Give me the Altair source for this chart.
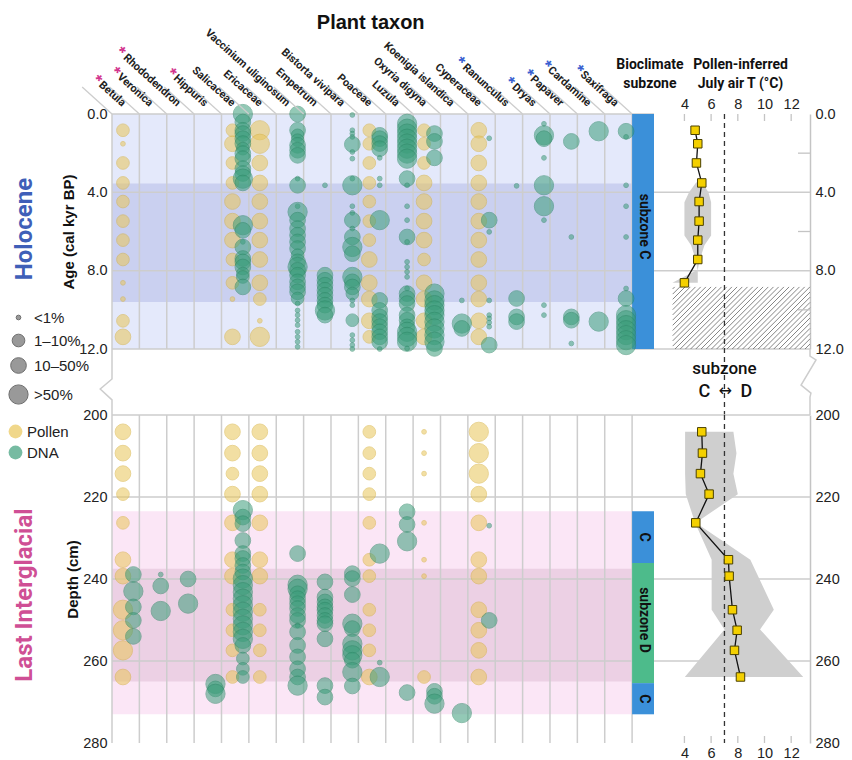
import altair as alt
import pandas as pd

# ------------------------------------------------------------------ data
TAXA = ["Betula", "Veronica", "Rhododendron", "Hippuris", "Salicaceae", "Ericaceae",
        "Vaccinium uliginosum", "Empetrum", "Bistorta vivipara", "Poaceae", "Luzula",
        "Oxyria digyna", "Koenigia islandica", "Cyperaceae", "Ranunculus", "Dryas",
        "Papaver", "Cardamine", "Saxifraga"]
PINK_STAR_TAXA = ["Betula", "Veronica", "Rhododendron", "Hippuris"]
BLUE_STAR_TAXA = ["Ranunculus", "Dryas", "Papaver", "Cardamine", "Saxifraga"]
SIZE_CLASSES = ["<1%", "1–10%", "10–50%", ">50%"]
PROXIES = ["Pollen", "DNA"]

# Holocene pollen samples (age, kyr BP) and abundance class per taxon (0 = absent)
HOLO_POLLEN_AGES = [0.83, 1.52, 2.5, 3.52, 4.47, 5.47, 6.44, 7.43, 8.62, 9.45, 10.56, 11.38]
HOLO_POLLEN_BETULA = [2, 1, 2, 2, 2, 2, 2, 2, 1, 1, 2, 3]
HOLO_POLLEN_SALICACEAE = [2, 3, 2, 2, 3, 3, 3, 2, 2, 1, 0, 3]
HOLO_POLLEN_ERICACEAE = [4, 4, 3, 3, 3, 3, 3, 3, 3, 2, 1, 4]
HOLO_POLLEN_POACEAE = [2, 2, 2, 2, 2, 2, 2, 3, 3, 3, 3, 2]
HOLO_POLLEN_OXYRIA = [2, 2, 2, 3, 3, 3, 3, 2, 3, 3, 3, 3]
HOLO_POLLEN_CYPERACEAE = [3, 3, 3, 3, 3, 3, 3, 3, 3, 3, 3, 3]

# Holocene sedaDNA (age, abundance class)
HOLO_DNA_SALICACEAE = [(0.0, 4), (0.41, 3), (0.83, 3), (1.0, 3), (1.26, 3), (1.51, 3), (1.77, 2),
                       (2.02, 3), (2.28, 3), (2.79, 3), (3.04, 3), (3.3, 4), (3.52, 3), (5.68, 4),
                       (5.94, 3), (6.53, 1), (6.79, 3), (7.38, 3), (7.55, 3), (7.81, 3), (8.15, 2),
                       (8.32, 2), (8.83, 3)]
HOLO_DNA_VACCINIUM = [(0.0, 3), (0.83, 3), (1.09, 2), (1.34, 2), (1.6, 3), (1.85, 3), (2.11, 3),
                      (3.3, 1), (3.64, 3), (4.71, 1), (5.0, 4), (5.42, 3), (5.85, 3), (6.19, 3),
                      (6.53, 3), (6.87, 3), (7.21, 2), (7.55, 3), (7.81, 4), (7.98, 3), (8.23, 3),
                      (8.57, 3), (8.83, 3), (9.08, 3), (9.42, 2), (9.68, 1), (10.03, 1), (10.27, 1),
                      (10.53, 1), (10.78, 1), (11.12, 1), (11.38, 1), (11.63, 1), (11.89, 1)]
HOLO_DNA_EMPETRUM = [(3.64, 1), (8.23, 3), (8.49, 3), (8.74, 3), (9.0, 3), (9.25, 3), (9.52, 3),
                     (9.76, 3), (10.03, 4), (10.27, 3)]
HOLO_DNA_BISTORTA = [(0.05, 1), (0.83, 1), (1.0, 1), (1.17, 1), (1.55, 3), (1.94, 1), (2.28, 1),
                     (3.3, 1), (3.64, 4), (4.71, 1), (5.05, 1), (5.42, 3), (5.85, 1), (6.28, 3),
                     (6.79, 4), (7.13, 3), (8.32, 4), (8.57, 3), (8.83, 3), (9.17, 2), (9.52, 1),
                     (9.76, 1), (10.53, 2), (11.29, 1), (11.55, 1), (11.8, 1), (12.0, 1)]
HOLO_DNA_POACEAE = [(1.09, 3), (1.26, 3), (1.51, 3), (1.77, 3), (2.24, 1), (3.3, 1), (3.64, 1),
                    (5.42, 4), (9.52, 3), (10.03, 3), (10.36, 3), (10.6, 3), (10.86, 3), (11.12, 3),
                    (11.38, 3), (11.63, 3), (12.0, 1)]
HOLO_DNA_LUZULA = [(0.5, 4), (0.75, 4), (1.0, 4), (1.26, 4), (1.51, 4), (1.77, 4), (2.02, 4),
                   (2.28, 4), (3.3, 3), (3.64, 1), (4.71, 1), (5.42, 1), (6.28, 3), (6.53, 1),
                   (7.55, 1), (7.81, 1), (8.06, 1), (8.32, 1), (8.91, 1), (9.17, 3), (9.42, 3),
                   (9.68, 3), (10.27, 3), (10.53, 3), (10.87, 3), (11.12, 4), (11.38, 4),
                   (11.63, 4), (11.97, 1)]
HOLO_DNA_OXYRIA = [(1.0, 3), (1.4, 3), (2.24, 3), (9.17, 4), (9.52, 4), (9.76, 4), (10.03, 4),
                   (10.27, 4), (10.61, 4), (10.95, 4), (11.29, 4), (11.63, 4), (11.97, 3)]
HOLO_DNA_KOENIGIA = [(9.52, 1), (10.7, 4), (10.95, 3)]
HOLO_DNA_CYPERACEAE = [(1.24, 1), (5.42, 3), (6.02, 1), (9.52, 1), (10.27, 1), (10.44, 1),
                       (10.65, 1), (10.86, 1), (11.8, 3)]
HOLO_DNA_RANUNCULUS = [(3.67, 1), (9.42, 3), (10.36, 3), (10.6, 3)]
HOLO_DNA_DRYAS = [(0.5, 1), (1.09, 4), (1.26, 3), (2.24, 1), (3.64, 4), (4.71, 4), (5.42, 1),
                  (9.76, 1), (10.27, 1)]
HOLO_DNA_PAPAVER = [(1.4, 3), (6.28, 1), (10.36, 3), (10.53, 3), (11.72, 1)]
HOLO_DNA_CARDAMINE = [(0.88, 4), (10.6, 4)]
HOLO_DNA_SAXIFRAGA = [(0.88, 3), (1.17, 1), (3.64, 1), (4.71, 1), (6.28, 1), (8.91, 1), (9.42, 3),
                      (10.27, 4), (10.53, 4), (10.78, 4), (11.04, 4), (11.29, 4), (11.55, 4),
                      (11.8, 4)]

# Last Interglacial pollen samples (depth, cm)
LIG_POLLEN_DEPTHS = [204.1, 209.3, 214.3, 219.3, 226.3, 235.3, 239.3, 247.5, 252.5, 257.4, 263.9]
LIG_POLLEN_BETULA = [3, 3, 3, 2, 2, 3, 3, 4, 4, 4, 3]
LIG_POLLEN_SALICACEAE = [3, 3, 2, 3, 3, 3, 3, 2, 2, 2, 2]
LIG_POLLEN_ERICACEAE = [3, 3, 3, 3, 3, 3, 3, 2, 2, 2, 2]
LIG_POLLEN_POACEAE = [2, 2, 2, 2, 2, 2, 2, 2, 2, 2, 3]
LIG_POLLEN_OXYRIA = [1, 1, 1, 0, 1, 1, 1, 0, 0, 0, 2]
LIG_POLLEN_CYPERACEAE = [4, 4, 4, 3, 3, 3, 3, 3, 3, 3, 3]

# Last Interglacial sedaDNA (depth, abundance class)
LIG_DNA_BETULA = [(238.9, 3), (243.0, 4), (246.8, 3), (250.1, 3), (254.0, 3)]
LIG_DNA_VERONICA = [(238.9, 1), (241.7, 3), (247.8, 4)]
LIG_DNA_RHODODENDRON = [(240.0, 3), (246.0, 4)]
LIG_DNA_HIPPURIS = [(265.6, 4), (266.8, 3), (268.0, 4)]
LIG_DNA_SALICACEAE = [(223.2, 4), (224.9, 3), (226.5, 3), (230.6, 3), (233.8, 3), (235.0, 3),
                      (236.7, 3), (238.3, 3), (239.9, 4), (241.5, 4), (243.2, 4), (244.8, 4),
                      (246.4, 4), (248.0, 4), (249.7, 4), (251.3, 4), (252.9, 4), (254.6, 4),
                      (256.2, 3), (259.4, 2), (261.9, 2), (263.9, 2)]
LIG_DNA_VACCINIUM = [(233.8, 3), (241.4, 4), (242.4, 4), (243.6, 3), (244.8, 3), (246.0, 3),
                     (247.2, 3), (248.9, 3), (250.1, 3), (251.3, 1), (252.9, 3), (256.2, 3),
                     (259.0, 3), (261.9, 3), (263.9, 3), (266.0, 4)]
LIG_DNA_EMPETRUM = [(240.7, 3), (244.4, 3), (245.6, 3), (246.8, 3), (247.6, 3), (248.9, 3),
                    (250.1, 3), (250.9, 3), (254.6, 3), (266.0, 3), (268.8, 3)]
LIG_DNA_BISTORTA = [(238.7, 3), (239.9, 3), (243.8, 3), (250.9, 4), (252.1, 3), (255.8, 4),
                    (257.4, 4), (258.6, 4), (259.8, 3), (262.7, 4), (266.1, 3)]
LIG_DNA_POACEAE = [(233.8, 4), (260.4, 1), (263.9, 4)]
LIG_DNA_LUZULA = [(223.6, 3), (226.7, 3), (230.8, 4), (267.7, 3)]
LIG_DNA_OXYRIA = [(267.4, 3), (268.6, 3), (270.4, 4)]
LIG_DNA_KOENIGIA = [(272.7, 4)]
LIG_DNA_CYPERACEAE = [(227.0, 1), (250.1, 3)]

# Bioclimate subzones and shaded intervals
HOLO_SUBZONES = [("C", 0.0, 12.0)]
LIG_SUBZONES = [("C", 223.5, 236.1), ("D", 236.1, 265.4), ("C", 265.4, 273.0)]
HOLO_SHADE = [(0.0, 12.0, "#e4e9fb"), (3.55, 9.6, "#cad0f0")]
LIG_SHADE = [(223.5, 273.0, "#fbe6f6"), (237.5, 265.0, "#ecd0e4")]

# Pollen-inferred July air temperature (°C)
HOLO_T_AGES = [0.83, 1.52, 2.5, 3.52, 4.47, 5.47, 6.44, 7.43, 8.62]
HOLO_T = [4.8, 5.0, 4.9, 5.3, 5.1, 5.1, 5.0, 5.0, 4.0]
HOLO_BAND_AGES = [3.3, 3.52, 4.0, 4.5, 6.2, 6.7, 7.45, 7.95, 8.62]
HOLO_BAND_LO = [5.25, 4.85, 4.35, 4.0, 4.0, 4.5, 4.85, 4.98, 3.1]
HOLO_BAND_HI = [5.3, 5.35, 5.8, 6.0, 6.0, 5.5, 5.15, 5.0, 5.0]
HOLO_NO_ANALOGUE = (3.12, 8.83, 12.0)   # hatched: T from 3.12 to axis end, age 8.83-12

LIG_T_DEPTHS = [204.1, 209.3, 214.3, 219.3, 226.3, 235.3, 239.3, 247.5, 252.5, 257.4, 263.9]
LIG_T = [5.3, 5.35, 5.2, 5.85, 4.85, 7.3, 7.35, 7.6, 7.95, 7.75, 8.2]
LIG_BAND_DEPTHS = [204.1, 209.3, 214.3, 219.3, 226.3, 235.3, 247.5, 252.3, 263.9]
LIG_BAND_LO = [4.05, 4.05, 4.05, 4.1, 4.8, 6.04, 6.04, 7.0, 4.03]
LIG_BAND_HI = [7.67, 7.9, 7.67, 8.0, 4.85, 8.94, 10.7, 9.67, 12.9]
SUBZONE_BOUNDARY_T = 7.0

T_TICKS = [4, 6, 8, 10, 12]
AGE_TICKS = [0, 4, 8, 12]
DEPTH_TICKS = [200, 220, 240, 260, 280]

# axis-break markers between the two records (slot / temperature offsets, age units)
LEFT_BREAK_X = [0, 0, -0.43, 0, 0]
LEFT_BREAK_AGE = [12.0, 13.53, 14.04, 14.6, 15.37]
RIGHT_BREAK_DT = [0, 0, 0.45, -0.67, 0.07, 0, 0]
RIGHT_BREAK_AGE = [12.0, 12.36, 12.56, 13.84, 14.25, 14.45, 15.37]

# ------------------------------------------------------------------ styling / layout
FONT = "Liberation Sans"
FONT_C = "Roboto"
W_MAIN, W_T = 542, 156
H_TOP, H_BOT, GAP = 235, 328, 66
X_DOM = [0, 19.8]
T_DOM = [1.72, 13.41]
GRID = "#cdcdcd"
POLLEN_SHIFT, DNA_SHIFT = 0.40, 0.78
BLUE_BAR, GREEN_BAR = "#3b90d9", "#4dbb8b"
LABEL_SIZE = 11

AB = {"a": 556, "b": 611, "c": 556, "d": 611, "e": 556, "f": 333, "g": 611, "h": 611, "i": 278,
      "k": 556, "l": 278, "m": 889, "n": 611, "o": 611, "p": 611, "r": 389, "s": 556, "t": 333,
      "u": 611, "v": 556, "y": 556, "x": 556, "z": 500, " ": 278, "B": 722, "C": 722, "D": 722,
      "E": 667, "H": 722, "K": 722, "L": 611, "O": 778, "P": 667, "R": 722, "S": 667, "V": 667}


def text_w(s, size):
    return sum(AB.get(ch, 600) for ch in s) * 0.93 * size / 1000.0


def bubble_frame(positions, pollen_map, dna_map):
    rows = []
    for taxon, classes in pollen_map.items():
        i = TAXA.index(taxon)
        for p, c in zip(positions, classes):
            if c:
                rows.append({"x": i + POLLEN_SHIFT, "y": p, "proxy": "Pollen", "cls": c})
    for taxon, pts in dna_map.items():
        i = TAXA.index(taxon)
        for p, c in pts:
            rows.append({"x": i + DNA_SHIFT, "y": p, "proxy": "DNA", "cls": c})
    return pd.DataFrame(rows)


holo_bub = bubble_frame(
    HOLO_POLLEN_AGES,
    {"Betula": HOLO_POLLEN_BETULA, "Salicaceae": HOLO_POLLEN_SALICACEAE,
     "Ericaceae": HOLO_POLLEN_ERICACEAE, "Poaceae": HOLO_POLLEN_POACEAE,
     "Oxyria digyna": HOLO_POLLEN_OXYRIA, "Cyperaceae": HOLO_POLLEN_CYPERACEAE},
    {"Salicaceae": HOLO_DNA_SALICACEAE, "Vaccinium uliginosum": HOLO_DNA_VACCINIUM,
     "Empetrum": HOLO_DNA_EMPETRUM, "Bistorta vivipara": HOLO_DNA_BISTORTA,
     "Poaceae": HOLO_DNA_POACEAE, "Luzula": HOLO_DNA_LUZULA, "Oxyria digyna": HOLO_DNA_OXYRIA,
     "Koenigia islandica": HOLO_DNA_KOENIGIA, "Cyperaceae": HOLO_DNA_CYPERACEAE,
     "Ranunculus": HOLO_DNA_RANUNCULUS, "Dryas": HOLO_DNA_DRYAS, "Papaver": HOLO_DNA_PAPAVER,
     "Cardamine": HOLO_DNA_CARDAMINE, "Saxifraga": HOLO_DNA_SAXIFRAGA})

lig_bub = bubble_frame(
    LIG_POLLEN_DEPTHS,
    {"Betula": LIG_POLLEN_BETULA, "Salicaceae": LIG_POLLEN_SALICACEAE,
     "Ericaceae": LIG_POLLEN_ERICACEAE, "Poaceae": LIG_POLLEN_POACEAE,
     "Oxyria digyna": LIG_POLLEN_OXYRIA, "Cyperaceae": LIG_POLLEN_CYPERACEAE},
    {"Betula": LIG_DNA_BETULA, "Veronica": LIG_DNA_VERONICA, "Rhododendron": LIG_DNA_RHODODENDRON,
     "Hippuris": LIG_DNA_HIPPURIS, "Salicaceae": LIG_DNA_SALICACEAE,
     "Vaccinium uliginosum": LIG_DNA_VACCINIUM, "Empetrum": LIG_DNA_EMPETRUM,
     "Bistorta vivipara": LIG_DNA_BISTORTA, "Poaceae": LIG_DNA_POACEAE, "Luzula": LIG_DNA_LUZULA,
     "Oxyria digyna": LIG_DNA_OXYRIA, "Koenigia islandica": LIG_DNA_KOENIGIA,
     "Cyperaceae": LIG_DNA_CYPERACEAE})

xs = alt.Scale(domain=X_DOM, nice=False, zero=False)
ts = alt.Scale(domain=T_DOM, nice=False, zero=False)
color_scale = alt.Scale(domain=PROXIES, range=["#e9c659", "#3c9e7b"])
stroke_scale = alt.Scale(domain=PROXIES, range=["#d8b23c", "#2c8866"])
size_scale = alt.Scale(type="linear", domain=[1, 2, 3, 4], range=[22, 160, 245, 370])
size_label_expr = " : ".join(
    f"datum.value == {k + 1} ? '{lab}'" for k, lab in enumerate(SIZE_CLASSES[:-1])
) + f" : '{SIZE_CLASSES[-1]}'"


def y_scale(dom):
    return alt.Scale(domain=dom, reverse=True, nice=False, zero=False)


def main_panel(bub, dom, height, ticks, title, shade, subzones, sub_label_y, hgrid, top):
    ys = y_scale(dom)
    yaxis = alt.Axis(values=ticks, format=".1f" if top else "d", title=title, grid=False,
                     domain=False, ticks=False, labelFont=FONT, labelFontSize=14.5,
                     labelColor="#222", labelPadding=5, titleFont=FONT, titleFontSize=15,
                     titleFontWeight="bold", titleColor="#111", titlePadding=2)

    def Y(f):
        return alt.Y(f, scale=ys, axis=yaxis)

    def X(f):
        return alt.X(f, scale=xs, axis=None)

    bg = pd.DataFrame([{"x": 0, "x2": 19, "y": a, "y2": b, "fill": f} for a, b, f in shade])
    layers = [alt.Chart(bg).mark_rect().encode(
        x=X("x:Q"), x2="x2", y=Y("y:Q"), y2="y2", color=alt.Color("fill:N", scale=None))]
    vg = pd.DataFrame({"x": list(range(0, 20)), "y": dom[0], "y2": dom[1]})
    layers.append(alt.Chart(vg).mark_rule(color=GRID, strokeWidth=1.5).encode(
        x=X("x:Q"), y=Y("y:Q"), y2="y2"))
    hg = pd.DataFrame({"y": hgrid, "x": 0, "x2": X_DOM[1]})
    layers.append(alt.Chart(hg).mark_rule(color=GRID, strokeWidth=1.5).encode(
        x=X("x:Q"), x2="x2", y=Y("y:Q")))
    bar = pd.DataFrame([{"x": 19, "x2": X_DOM[1], "y": a, "y2": b,
                         "fill": BLUE_BAR if z == "C" else GREEN_BAR} for z, a, b in subzones])
    layers.append(alt.Chart(bar).mark_rect().encode(
        x=X("x:Q"), x2="x2", y=Y("y:Q"), y2="y2", color=alt.Color("fill:N", scale=None)))
    bl = pd.DataFrame({"x": 19.42, "y": [p for _, p in sub_label_y], "t": [t for t, _ in sub_label_y]})
    layers.append(alt.Chart(bl).mark_text(angle=90, font=FONT_C, fontWeight="bold", fontSize=14,
                                          color="#111", baseline="middle").encode(
        x=X("x:Q"), y=Y("y:Q"), text="t:N"))
    layers.append(alt.Chart(bub).mark_circle(opacity=0.55, strokeWidth=1).encode(
        x=X("x:Q"), y=Y("y:Q"),
        color=alt.Color("proxy:N", scale=color_scale,
                        legend=alt.Legend(orient="none", legendX=-104, legendY=310, title=None,
                                          symbolType="circle", symbolSize=190, labelFont=FONT,
                                          labelFontSize=15, labelColor="#222", rowPadding=5,
                                          symbolOpacity=0.7, symbolStrokeWidth=0)),
        stroke=alt.Stroke("proxy:N", scale=stroke_scale, legend=None),
        size=alt.Size("cls:Q", scale=size_scale,
                      legend=alt.Legend(orient="none", legendX=-104, legendY=196, title=None,
                                        values=[1, 2, 3, 4], labelExpr=size_label_expr,
                                        symbolType="circle", symbolFillColor="#8f8f8f",
                                        symbolStrokeColor="#606060", symbolStrokeWidth=1,
                                        symbolOpacity=0.9, labelFont=FONT, labelFontSize=15,
                                        labelColor="#222", rowPadding=6, labelOffset=5)),
        order=alt.Order("proxy:N", sort="descending")))
    if top:
        sl = pd.DataFrame({"x": list(range(0, 20)), "x2": [b - 1.09 for b in range(0, 20)]})
        layers.append(alt.Chart(sl).mark_rule(color=GRID, strokeWidth=1.3).encode(
            x=X("x:Q"), x2="x2", y=alt.value(0), y2=alt.value(-27)))
        labs = pd.DataFrame({"x": [i + 0.36 for i in range(len(TAXA))], "t": TAXA})
        layers.append(alt.Chart(labs).mark_text(angle=42, align="right", baseline="alphabetic",
                                                font=FONT_C, fontWeight="bold", fontSize=LABEL_SIZE,
                                                color="#222").encode(
            x=X("x:Q"), y=alt.value(-7), text="t:N"))
        for taxon in PINK_STAR_TAXA + BLUE_STAR_TAXA:
            i = TAXA.index(taxon)
            col = "#d2358e" if taxon in PINK_STAR_TAXA else "#3a5fd0"
            st = pd.DataFrame({"x": [i + 0.36], "t": ["*"]})
            layers.append(alt.Chart(st).mark_text(angle=42, align="center", baseline="middle",
                                                  font=FONT, fontWeight="bold", fontSize=17,
                                                  color=col, dx=-(text_w(taxon, LABEL_SIZE) + 5),
                                                  dy=-3).encode(
                x=X("x:Q"), y=alt.value(-7), text="t:N"))
        hdr = pd.DataFrame({"x": [9.45], "t": ["Plant taxon"]})
        layers.append(alt.Chart(hdr).mark_text(font=FONT, fontWeight="bold", fontSize=20,
                                               color="#111", baseline="middle").encode(
            x=X("x:Q"), y=alt.value(-91), text="t:N"))
        bh = pd.DataFrame({"x": [19.65], "t": [["Bioclimate", "subzone"]]})
        layers.append(alt.Chart(bh).mark_text(font=FONT_C, fontWeight="bold", fontSize=14,
                                              color="#111", baseline="middle", lineHeight=19).encode(
            x=X("x:Q"), y=alt.value(-49), text="t"))
        side = pd.DataFrame({"t": ["Holocene"]})
        layers.append(alt.Chart(side).mark_text(angle=270, font=FONT_C, fontWeight="bold",
                                                fontSize=24, color="#3f5fb8", baseline="middle").encode(
            x=alt.value(-87), y=alt.value(115), text="t:N"))
        zz = pd.DataFrame({"x": LEFT_BREAK_X, "y": LEFT_BREAK_AGE, "o": range(len(LEFT_BREAK_X))})
        layers.append(alt.Chart(zz).mark_line(color=GRID, strokeWidth=1.5).encode(
            x=X("x:Q"), y=Y("y:Q"), order="o:Q"))
    else:
        side = pd.DataFrame({"t": ["Last Interglacial"]})
        layers.append(alt.Chart(side).mark_text(angle=270, font=FONT_C, fontWeight="bold",
                                                fontSize=24, color="#cf4f95", baseline="middle").encode(
            x=alt.value(-87), y=alt.value(180), text="t:N"))
    return alt.layer(*layers).properties(width=W_MAIN, height=height)


def temp_panel(dom, height, ticks, t_pos, t_vals, b_pos, b_lo, b_hi, hgrid, top):
    ys = y_scale(dom)
    xaxis = alt.Axis(orient="top" if top else "bottom", values=T_TICKS, title=None, grid=False,
                     domain=False, ticks=False, labelFont=FONT, labelFontSize=14.5,
                     labelColor="#222", labelPadding=3)
    yaxis = alt.Axis(orient="right", values=ticks, format=".1f" if top else "d", title=None,
                     grid=False, domain=True, domainColor="#c4c4c4", domainWidth=1.5, ticks=False,
                     labelFont=FONT, labelFontSize=14.5, labelColor="#222", labelPadding=5)

    def Y(f):
        return alt.Y(f, scale=ys, axis=yaxis)

    def X(f):
        return alt.X(f, scale=ts, axis=xaxis)

    layers = []
    hg = pd.DataFrame({"y": hgrid})
    layers.append(alt.Chart(hg).mark_rule(color=GRID, strokeWidth=1.5).encode(
        y=Y("y:Q"), x=alt.value(0), x2=alt.value(W_T)))
    if top:
        # hatched region (no pollen-based reconstruction)
        t0, a0, a1 = HOLO_NO_ANALOGUE
        pxx = W_T / (T_DOM[1] - T_DOM[0])
        pxy = height / (dom[1] - dom[0])
        X0, X1 = (t0 - T_DOM[0]) * pxx, W_T
        Y0, Y1 = a0 * pxy, a1 * pxy
        segs = []
        c = X0 + Y0 + 2
        while c < X1 + Y1:
            xa, xb = max(X0, c - Y1), min(X1, c - Y0)
            if xa < xb:
                segs.append({"x": T_DOM[0] + xa / pxx, "y": (c - xa) / pxy,
                             "x2": T_DOM[0] + xb / pxx, "y2": (c - xb) / pxy})
            c += 5.2
        layers.append(alt.Chart(pd.DataFrame(segs)).mark_rule(color="#666", strokeWidth=0.8).encode(
            x=X("x:Q"), x2="x2", y=Y("y:Q"), y2="y2"))
    band = pd.DataFrame({"y": b_pos, "lo": b_lo, "hi": b_hi})
    layers.append(alt.Chart(band).mark_area(orient="horizontal", color="#cfcfcf").encode(
        y=Y("y:Q"), x=X("lo:Q"), x2="hi"))
    dash = pd.DataFrame({"x": [SUBZONE_BOUNDARY_T], "y": [dom[0]],
                         "y2": [LEFT_BREAK_AGE[-1] if top else dom[1]]})
    layers.append(alt.Chart(dash).mark_rule(color="#333", strokeWidth=1.3, strokeDash=[5, 4]).encode(
        x=X("x:Q"), y=Y("y:Q"), y2="y2"))
    tdf = pd.DataFrame({"y": t_pos, "t": t_vals})
    layers.append(alt.Chart(tdf).mark_line(color="#111", strokeWidth=1.3).encode(
        x=X("t:Q"), y=Y("y:Q"), order="y:Q"))
    layers.append(alt.Chart(tdf).mark_square(size=72, color="#f4d000", stroke="#4a4000",
                                             strokeWidth=1, opacity=1).encode(
        x=X("t:Q"), y=Y("y:Q")))
    tk = pd.DataFrame({"t": T_TICKS})
    if top:
        layers.append(alt.Chart(tk).mark_rule(color="#c4c4c4", strokeWidth=1.3).encode(
            x=X("t:Q"), y=alt.value(0), y2=alt.value(7)))
        mt = pd.DataFrame({"y": [2, 6, 10]})
        layers.append(alt.Chart(mt).mark_rule(color="#c4c4c4", strokeWidth=1.3).encode(
            y=Y("y:Q"), x=alt.value(W_T - 12), x2=alt.value(W_T)))
        hdr = pd.DataFrame({"x": [8.2], "t": [["Pollen-inferred", "July air T (°C)"]]})
        layers.append(alt.Chart(hdr).mark_text(font=FONT_C, fontWeight="bold", fontSize=14,
                                               color="#111", baseline="middle", lineHeight=19).encode(
            x=X("x:Q"), y=alt.value(-49), text="t"))
        for txt, tx, py, fs, fnt in [("subzone", SUBZONE_BOUNDARY_T, 255, 17, FONT_C),
                                     ("C", 5.5, 278, 18, FONT_C), ("D", 8.65, 278, 18, FONT_C),
                                     ("↔", SUBZONE_BOUNDARY_T + 0.05, 277, 16, "DejaVu Sans")]:
            sz = pd.DataFrame({"x": [tx], "t": [txt]})
            layers.append(alt.Chart(sz).mark_text(font=fnt, fontWeight=500, fontSize=fs,
                                                  color="#111", baseline="middle").encode(
                x=X("x:Q"), y=alt.value(py), text="t:N"))
        zz = pd.DataFrame({"x": [T_DOM[1] + d for d in RIGHT_BREAK_DT], "y": RIGHT_BREAK_AGE,
                           "o": range(len(RIGHT_BREAK_DT))})
        layers.append(alt.Chart(zz).mark_line(color=GRID, strokeWidth=1.5).encode(
            x=X("x:Q"), y=Y("y:Q"), order="o:Q"))
    else:
        layers.append(alt.Chart(tk).mark_rule(color="#c4c4c4", strokeWidth=1.3).encode(
            x=X("t:Q"), y=alt.value(height - 7), y2=alt.value(height)))
    return alt.layer(*layers).properties(width=W_T, height=height)


main_top = main_panel(holo_bub, [0, 12], H_TOP, AGE_TICKS, "Age (cal kyr BP)", HOLO_SHADE,
                      HOLO_SUBZONES, [("subzone C", 5.75)], [0, 4, 8, 12], True)
main_bot = main_panel(lig_bub, [200, 280], H_BOT, DEPTH_TICKS, "Depth (cm)", LIG_SHADE,
                      LIG_SUBZONES, [("C", 229.8), ("subzone D", 250.0), ("C", 269.2)],
                      [200, 220, 240, 260], False)
temp_top = temp_panel([0, 12], H_TOP, AGE_TICKS, HOLO_T_AGES, HOLO_T, HOLO_BAND_AGES,
                      HOLO_BAND_LO, HOLO_BAND_HI, [4, 8, 12], True)
temp_bot = temp_panel([200, 280], H_BOT, DEPTH_TICKS, LIG_T_DEPTHS, LIG_T, LIG_BAND_DEPTHS,
                      LIG_BAND_LO, LIG_BAND_HI, [200, 220, 240, 260], False)

chart = alt.concat(main_top, temp_top, main_bot, temp_bot, columns=2,
                   spacing={"row": GAP, "column": 0}, bounds="flush").properties(
    padding={"left": 0, "top": 5, "right": 0, "bottom": 0}
).configure_view(stroke=None)

chart.save("out.html", embed_options={"renderer": "svg", "actions": False})
